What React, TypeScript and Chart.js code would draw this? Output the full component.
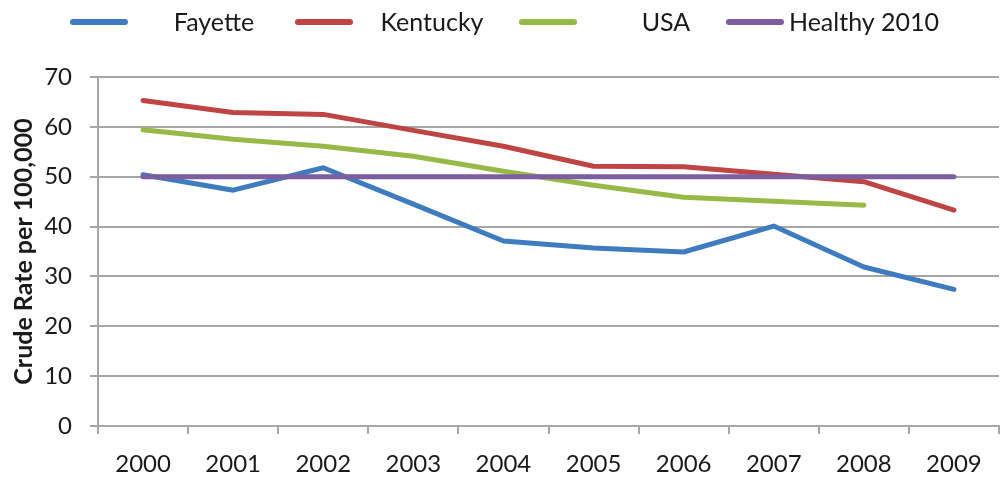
import React, { useEffect, useRef } from "react";
import { Chart, registerables } from "chart.js";

Chart.register(...registerables);

const years = ["2000", "2001", "2002", "2003", "2004", "2005", "2006", "2007", "2008", "2009"];
const fayette = [50.4, 47.3, 51.8, 44.5, 37.1, 35.7, 34.9, 40.1, 31.9, 27.4];
const kentucky = [65.3, 62.9, 62.5, 59.3, 56.1, 52.1, 52.0, 50.5, 49.0, 43.3];
const usa = [59.4, 57.5, 56.1, 54.1, 51.1, 48.3, 45.9, 45.1, 44.3, null];
const healthy2010 = [50, 50, 50, 50, 50, 50, 50, 50, 50, 50];
const yTicks = [0, 10, 20, 30, 40, 50, 60, 70];

const seriesNames = ["Fayette", "Kentucky", "USA", "Healthy 2010"];
const seriesColors = ["#3F7CBF", "#BE4543", "#97B947", "#7C5DA0"];

const FONT = "Lato, 'Open Sans', sans-serif";

const slotLegend = {
  id: "slotLegend",
  afterDraw(chart: any, _args: any, opts: any) {
    const ctx = chart.ctx;
    ctx.save();
    chart.data.datasets.forEach((ds: any, i: number) => {
      const sx = opts.sampleX[i];
      ctx.strokeStyle = ds.borderColor;
      ctx.lineWidth = 6;
      ctx.lineCap = "round";
      ctx.beginPath();
      ctx.moveTo(sx + 3, opts.y);
      ctx.lineTo(sx + opts.sampleW - 3, opts.y);
      ctx.stroke();
      ctx.fillStyle = "#1a1a1a";
      ctx.font = `${opts.fontSize}px ${FONT}`;
      ctx.textAlign = "center";
      ctx.textBaseline = "middle";
      ctx.fillText(ds.label, opts.textX[i], opts.y + 1);
    });
    ctx.restore();
  },
};

export default function App() {
  const ref = useRef<HTMLCanvasElement>(null);
  useEffect(() => {
    if (!ref.current) return;
    const data = [fayette, kentucky, usa, healthy2010];
    const chart = new Chart(ref.current, {
      type: "line",
      data: {
        labels: years,
        datasets: data.map((d, i) => ({
          label: seriesNames[i],
          data: d,
          borderColor: seriesColors[i],
          backgroundColor: seriesColors[i],
          borderWidth: 5,
          pointRadius: 0,
          pointHoverRadius: 0,
          tension: 0,
          fill: false,
          spanGaps: false,
          borderCapStyle: "round" as const,
          borderJoinStyle: "round" as const,
          order: 4 - i,
        })),
      },
      options: {
        responsive: false,
        animation: false,
        layout: { padding: { top: 77, right: 5, left: 0, bottom: 0 } },
        plugins: {
          legend: { display: false },
          tooltip: { enabled: false },
          slotLegend: {
            y: 22,
            sampleW: 58,
            sampleX: [70, 295, 519, 726],
            textX: [214, 432, 666, 864],
            fontSize: 25,
          },
        } as any,
        scales: {
          x: {
            offset: true,
            grid: {
              offset: true,
              drawOnChartArea: false,
              drawTicks: true,
              tickLength: 8,
              color: "#a6a6a6",
              lineWidth: 2,
            },
            border: { display: true, color: "#a6a6a6", width: 2 },
            ticks: {
              color: "#1a1a1a",
              font: { family: FONT, size: 24 },
              padding: 16,
              maxRotation: 0,
              autoSkip: false,
            },
            afterFit(scale: any) {
              scale.height = 52;
            },
          },
          y: {
            min: 0,
            max: 70,
            afterBuildTicks(scale: any) {
              scale.ticks = yTicks.map((v) => ({ value: v }));
            },
            grid: {
              color: "#a6a6a6",
              lineWidth: 2,
              tickLength: 8,
              drawTicks: true,
            },
            border: { display: true, color: "#a6a6a6", width: 2 },
            ticks: {
              color: "#1a1a1a",
              font: { family: FONT, size: 24 },
              padding: 18,
            },
            title: {
              display: true,
              text: "Crude Rate per 100,000",
              color: "#1a1a1a",
              font: { family: FONT, size: 25, weight: "bold" },
              padding: { top: 9, bottom: 0 },
            },
            afterFit(scale: any) {
              scale.width = 98;
            },
          },
        },
      },
      plugins: [slotLegend],
    });
    return () => chart.destroy();
  }, []);
  return (
    <div style={{ position: "fixed", left: 0, top: 0, width: 1004, height: 478, background: "#fff" }}>
      <canvas ref={ref} width={1004} height={478} />
    </div>
  );
}
